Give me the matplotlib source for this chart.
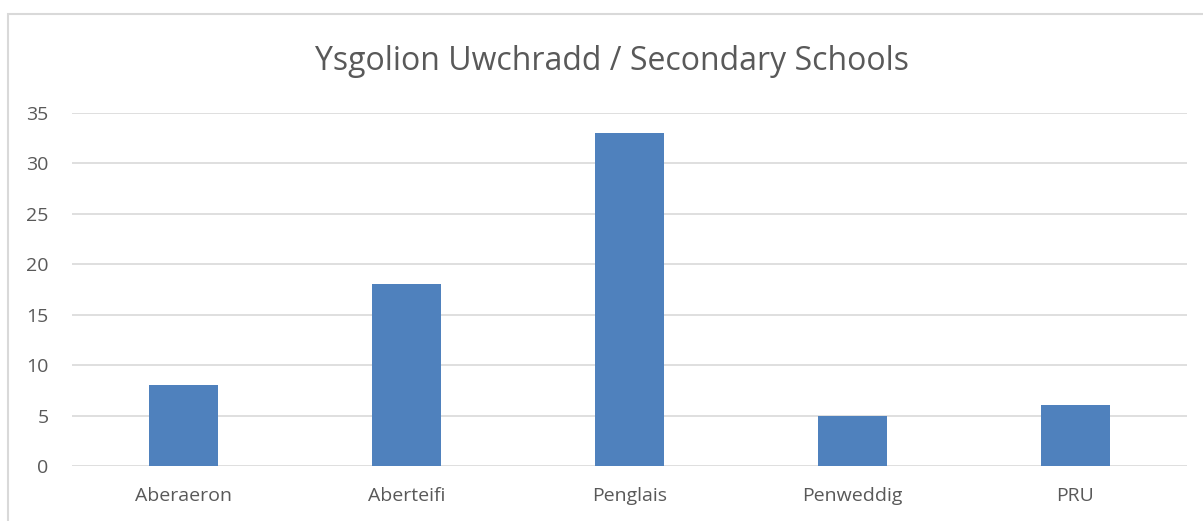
import matplotlib.pyplot as plt
from matplotlib.patches import Rectangle

schools = ["Aberaeron", "Aberteifi", "Penglais", "Penweddig", "PRU"]
counts = [8, 18, 33, 5, 6]
yticks = [0, 5, 10, 15, 20, 25, 30, 35]

plt.rcParams['font.family'] = ['Open Sans', 'DejaVu Sans']

fig = plt.figure(figsize=(12.03, 5.21), dpi=100)
ax = fig.add_axes([72 / 1203, 1 - 466 / 521, 1115 / 1203, 353 / 521])

# chart border (right and bottom run off the image)
fig.patches.append(Rectangle((8 / 1203, -0.1), 1.2, 1 - 14 / 521 + 0.1,
                             transform=fig.transFigure, fill=False,
                             edgecolor="#D9D9D9", linewidth=1.5))

x = range(len(schools))
ax.bar(x, counts, width=0.31, color="#4F81BD", zorder=3)

ax.set_xlim(-0.5, len(schools) - 0.5)
ax.set_ylim(0, 35)
ax.set_yticks(yticks)
ax.set_xticks(list(x))
ax.set_xticklabels(schools)
ax.grid(axis="y", color="#D9D9D9", linewidth=1.2, zorder=0)
for s in ax.spines.values():
    s.set_visible(False)
ax.tick_params(length=0, labelsize=14, colors="#595959")
ax.tick_params(axis="x", pad=15)
ax.tick_params(axis="y", pad=17)
for lbl in ax.get_yticklabels():
    lbl.set_horizontalalignment("right")

fig.text(0.509, 1 - 62 / 521, "Ysgolion Uwchradd / Secondary Schools",
         ha="center", va="center", fontsize=23, color="#595959")

fig.savefig("out.png", dpi=100)
